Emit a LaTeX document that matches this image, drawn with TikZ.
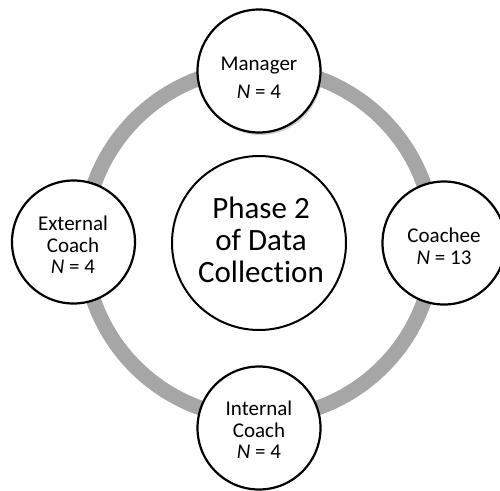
\documentclass[tikz,border=0pt]{standalone}
\usepackage{fontspec}
\setmainfont[Ligatures={NoCommon,NoDiscretionary,NoContextual}]{Carlito}
\usetikzlibrary{shadows}
\definecolor{ringgray}{HTML}{A6A6A6}
\begin{document}
\begin{tikzpicture}[x=1pt,y=-1pt,
  small/.style={circle,draw=black,line width=2.2pt,fill=white,minimum size=123pt,inner sep=0pt},
  big/.style={circle,draw=black,line width=2pt,fill=white,minimum size=174pt,inner sep=0pt},
  smalltext/.style={inner sep=0pt,align=center,font=\fontsize{21}{21.7}\selectfont},
  bigtext/.style={inner sep=0pt,align=center,font=\fontsize{31}{32}\selectfont}]
\useasboundingbox (0,0) rectangle (500,490);
\clip (0,0) rectangle (500,490);
\coordinate (c) at (259,243);
\draw[ringgray,line width=15pt] (c) circle[radius=175];
\node[big] (phase) at (c) {};
\node[bigtext] (phaset) at (261,240) {Phase 2\\of Data\\Collection};
\node[small,drop shadow={shadow xshift=1.5pt,shadow yshift=-2.5pt,fill=black!30,opacity=0.6}] (man) at (259,71) {};
\node[smalltext] (mant) at (259,78) {Manager\\[6pt]\textit{N} = 4};
\node[small] (coachee) at (444,243) {};
\node[smalltext] (coacheet) at (444,246) {Coachee\\\textit{N} = 13};
\node[small] (ext) at (73.5,242) {};
\node[smalltext] (extt) at (73,245) {External\\Coach\\\textit{N} = 4};
\node[small] (int) at (259,428) {};
\node[smalltext] (intt) at (259,430) {Internal\\Coach\\\textit{N} = 4};
\end{tikzpicture}
\end{document}
